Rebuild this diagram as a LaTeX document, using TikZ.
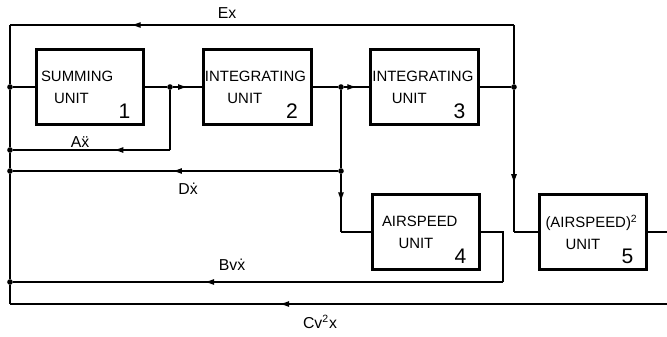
\documentclass[tikz,border=0pt]{standalone}
\usepackage{fontspec}
\setmainfont{Liberation Sans}
\usetikzlibrary{arrows.meta,positioning,calc,decorations.markings}

\begin{document}
\begin{tikzpicture}[x=0.02cm, y=-0.02cm, line width=0.7pt, node distance=1.13cm]
    \tikzset{
      unit/.style={draw, line width=1.7pt, minimum width=2.16cm, minimum height=1.5cm,
                   text width=2.1cm, inner sep=0pt, align=left,
                   font=\fontsize{8.5}{12.5}\selectfont},
      num/.style={font=\fontsize{12}{12}\selectfont, xshift=-0.42cm, yshift=0.3cm},
      sig/.style={font=\fontsize{9}{9}\selectfont},
      dot/.style={circle, fill, inner sep=0pt, minimum size=3.2pt},
      flow/.style={postaction={decorate}, decoration={markings,
                   mark=at position #1 with {\arrow{Latex[length=5.5pt,width=3.4pt]}}}},
    }
    \useasboundingbox (0,0) rectangle (667,336);

    \node[unit] (b1) at (90,87) {\hspace*{0.07cm}SUMMING\\\hspace*{0.33cm}UNIT};
    \node[unit, right=of b1] (b2) {INTEGRATING\\\hspace*{0.45cm}UNIT};
    \node[unit, right=of b2] (b3) {INTEGRATING\\\hspace*{0.39cm}UNIT};
    \node[unit] (b4) at (426,232) {\hspace*{0.17cm}AIRSPEED\\\hspace*{0.5cm}UNIT};
    \node[unit] (b5) at (593,232) {\hspace*{0.1cm}(AIRSPEED)\textsuperscript{2}\\\hspace*{0.5cm}UNIT};

    \node[num] at (b1.south east) {1};
    \node[num] at (b2.south east) {2};
    \node[num] at (b3.south east) {3};
    \node[num] at (b4.south east) {4};
    \node[num] at (b5.south east) {5};

    % junctions
    \node[dot] (jL) at (10,87) {};
    \node[dot] (jA) at (10,150) {};
    \node[dot] (jD) at (10,171) {};
    \node[dot] (jB) at (10,282) {};
    \node[dot] (j1) at (170,87) {};
    \node[dot] (j2) at (341,87) {};
    \node[dot] (j2d) at (341,171) {};
    \node[dot] (j3) at (514,87) {};

    % corners
    \coordinate (cTL) at (10,25);
    \coordinate (cTR) at (514,25);
    \coordinate (cBL) at (10,304);
    \coordinate (cA) at (170,150);
    \coordinate (c4) at (341,232);
    \coordinate (c5) at (514,232);
    \coordinate (r4) at (503,232);
    \coordinate (r4b) at (503,282);
    \coordinate (e5) at (667,232);
    \coordinate (eC) at (667,304);

    % forward path
    \draw (jL) -- (b1.west);
    \draw (b1.east) -- (j1);
    \draw[flow=0.5] (j1) -- (b2.west);
    \draw (b2.east) -- (j2);
    \draw[flow=0.5] (j2) -- (b3.west);
    \draw (b3.east) -- (j3);

    % feedback
    \draw (j3) -- (cTR);
    \draw[flow=0.76] (cTR) -- (cTL);
    \draw (cTL) -- (jL) -- (jA) -- (jD) -- (jB) -- (cBL);
    \draw (j1) -- (cA);
    \draw[flow=0.36] (cA) -- (jA);
    \draw (j2) -- (j2d);
    \draw[flow=0.51] (j2d) -- (jD);
    \draw[flow=0.48] (j2d) -- (c4);
    \draw (c4) -- (b4.west);
    \draw[flow=0.66] (j3) -- (c5);
    \draw (c5) -- (b5.west);
    \draw (b4.east) -- (r4) -- (r4b);
    \draw[flow=0.61] (r4b) -- (jB);
    \draw (b5.east) -- (e5);
    \draw[flow=0.59] (eC) -- (cBL);

    \node[sig] (lEx) at (227,13) {Ex};
    \node[sig] (lA) at (80,142) {A\"x};
    \node[sig] (lD) at (188,189) {D\.x};
    \node[sig] (lB) at (232,265) {Bv\.x};
    \node[sig] (lC) at (320,322) {Cv\textsuperscript{2}x};
\end{tikzpicture}
\end{document}
